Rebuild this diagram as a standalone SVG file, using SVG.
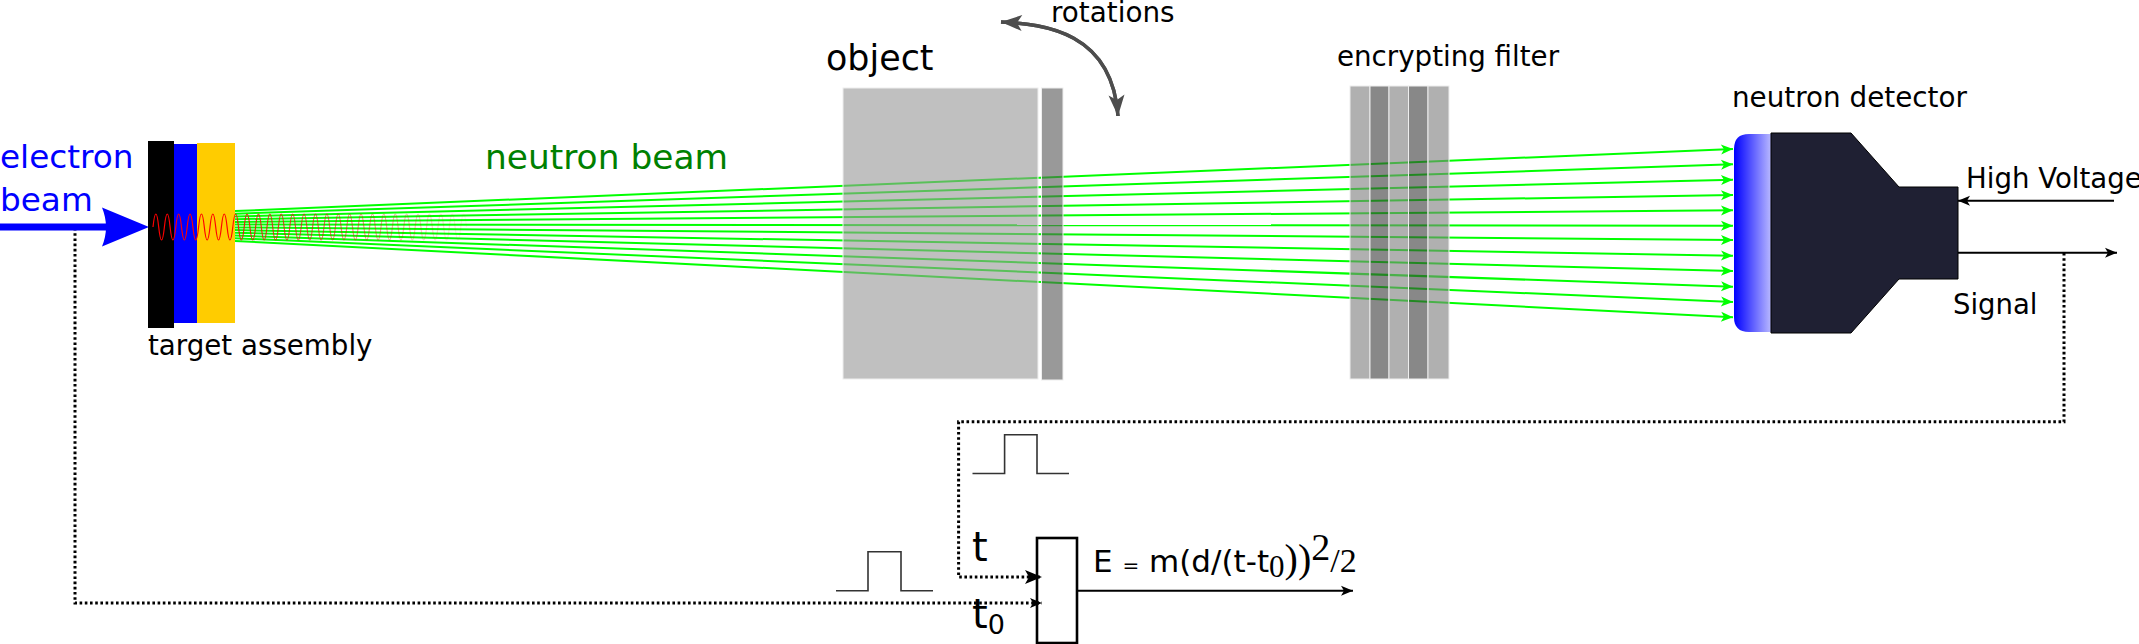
<svg xmlns="http://www.w3.org/2000/svg" width="2139" height="644" viewBox="0 0 2139 644">
<style>
text{font-family:"DejaVu Sans",sans-serif;fill:#000}
.ray{stroke:#00ff00;stroke-width:2;fill:none;marker-end:url(#ga)}
.dot{stroke:#000;stroke-width:3;stroke-dasharray:2.6 2.6;fill:none}
.thin{stroke:#000;stroke-width:2;fill:none}
.pulse{stroke:#333;stroke-width:1.6;fill:none}
.pane{stroke:#eee;stroke-width:1;fill-opacity:.6}
.sf{font-family:"Liberation Serif",serif}
</style>
<defs>
<marker id="ga" markerUnits="userSpaceOnUse" markerWidth="14" markerHeight="12" refX="12" refY="5" orient="auto" overflow="visible"><path d="M12 5L0 0L3 5L0 10Z" fill="#00ff00"/></marker>
<marker id="ka" markerUnits="userSpaceOnUse" markerWidth="14" markerHeight="12" refX="12" refY="5" orient="auto" overflow="visible"><path d="M12 5L0 0L3 5L0 10Z" fill="#000"/></marker>
<marker id="kb" markerUnits="userSpaceOnUse" markerWidth="20" markerHeight="16" refX="17" refY="7" orient="auto" overflow="visible"><path d="M17 7L0 0L4 7L0 14Z" fill="#000"/></marker>
<marker id="ra" markerUnits="userSpaceOnUse" markerWidth="24" markerHeight="20" refX="21" refY="8" orient="auto" overflow="visible"><path d="M21 8L0 0L5 8L0 16Z" fill="#4d4d4d"/></marker>
<linearGradient id="pm" x1="0" y1="0" x2="1" y2="0"><stop offset="0" stop-color="#0000ff"/><stop offset="1" stop-color="#0000ff" stop-opacity=".28"/></linearGradient>
<linearGradient id="wave" gradientUnits="userSpaceOnUse" x1="235" y1="0" x2="480" y2="0"><stop offset="0" stop-color="#ff0000" stop-opacity=".9"/><stop offset="1" stop-color="#ff0000" stop-opacity="0"/></linearGradient>
</defs>
<g id="connectors">
<g id="rays">
<path class="ray" d="M235 211L1733 149"/>
<path class="ray" d="M235 213.7L1733 164.3"/>
<path class="ray" d="M235 216.5L1733 179.7"/>
<path class="ray" d="M235 219.2L1733 195"/>
<path class="ray" d="M235 221.9L1733 210.3"/>
<path class="ray" d="M235 224.6L1733 225.7"/>
<path class="ray" d="M235 227.4L1733 240"/>
<path class="ray" d="M235 230.1L1733 255.7"/>
<path class="ray" d="M235 232.8L1733 271"/>
<path class="ray" d="M235 235.5L1733 286.7"/>
<path class="ray" d="M235 238.3L1733 302"/>
<path class="ray" d="M235 241L1733 317.3"/>
</g>
<path class="thin" d="M2114 200.7H1958" marker-end="url(#ka)"/>
<path class="thin" d="M1958 252.7H2117" marker-end="url(#ka)"/>
<path class="thin" d="M1077 590.7H1353" marker-end="url(#ka)"/>
<path class="dot" d="M2064 253V421.7H958.6V577H1042" marker-end="url(#kb)"/>
<path class="dot" d="M75 228V603H1042" marker-end="url(#ka)"/>
<path d="M1001 22C1045 24 1112 32 1118 116" fill="none" stroke="#4d4d4d" stroke-width="3.4" marker-end="url(#ra)"/>
<path d="M1118 116C1112 32 1045 24 1001 22" fill="none" stroke="#4d4d4d" stroke-width="3.4" marker-end="url(#ra)"/>
</g>
<g id="electron-beam">
<path d="M0 223.5H107V230.5H0Z" fill="#0000ff"/>
<path d="M149 227L102 207.500Q110 227 102 246.500Z" fill="#0000ff"/>
<text x="0" y="168" font-size="32.700" style="fill:#0000ff">electron</text>
<text x="0" y="211" font-size="32.700" style="fill:#0000ff">beam</text>
</g>
<g id="target-assembly">
<rect x="148" y="141" width="26" height="187" fill="#000"/>
<rect x="174" y="144" width="23" height="179" fill="#0000ff"/>
<rect x="197" y="143" width="38" height="180" fill="#ffcc00"/>
<text x="148" y="355" font-size="27.700">target assembly</text>
</g>
<path id="wave-low" d="M153 227q2.85 -26 5.7 0t5.7 0t5.7 0t5.7 0t5.7 0t5.7 0t5.7 0t5.7 0t5.7 0t5.7 0t5.7 0t5.7 0t5.7 0t5.7 0" fill="none" stroke="#ff0000" stroke-width="1.2"/>
<path id="wave-fade" d="M232.800 227q2.85 -26 5.7 0t5.7 0t5.7 0t5.7 0t5.7 0t5.7 0t5.7 0t5.7 0t5.7 0t5.7 0t5.7 0t5.7 0t5.7 0t5.7 0t5.7 0t5.7 0t5.7 0t5.7 0t5.7 0t5.7 0t5.7 0t5.7 0t5.7 0t5.7 0t5.7 0t5.7 0t5.7 0t5.7 0t5.7 0t5.7 0t5.7 0t5.7 0t5.7 0t5.7 0t5.7 0t5.7 0t5.7 0t5.7 0t5.7 0t5.7 0t5.7 0" fill="none" stroke="url(#wave)" stroke-width="1.2"/>
<text id="neutron-beam" x="485" y="169" font-size="34.400" style="fill:#008000">neutron beam</text>
<g id="object">
<rect class="pane" x="843" y="88" width="195" height="291" fill="#969696"/>
<rect class="pane" x="1041.500" y="88" width="21.500" height="292" fill="#555"/>
<text x="826" y="70" font-size="34.900">object</text>
</g>
<text id="rotations" x="1051" y="22" font-size="27.800">rotations</text>
<g id="encrypting-filter">
<rect class="pane" x="1350" y="86" width="20" height="293" fill="#7b7b7b"/>
<rect class="pane" x="1370" y="86" width="19" height="293" fill="#393939"/>
<rect class="pane" x="1389" y="86" width="19.500" height="293" fill="#7b7b7b"/>
<rect class="pane" x="1408.500" y="86" width="19.500" height="293" fill="#393939"/>
<rect class="pane" x="1428" y="86" width="21" height="293" fill="#7b7b7b"/>
<text x="1337" y="66" font-size="27.700">encrypting filter</text>
</g>
<g id="neutron-detector">
<path d="M1771 134H1749Q1734 134 1734 149V317Q1734 332 1749 332H1771Z" fill="url(#pm)"/>
<path d="M1771 133H1851L1899 187H1958V279H1899L1851 333H1771Z" fill="#1f2033" stroke="#000" stroke-width="1"/>
<text x="1732" y="107" font-size="27.800">neutron detector</text>
<text x="1966" y="188" font-size="27.600">High Voltage</text>
<text x="1953" y="314" font-size="27.500">Signal</text>
</g>
<path id="pulse-t" class="pulse" d="M972.500 473.500H1004.600V434.700H1037V473.500H1069"/>
<path id="pulse-t0" class="pulse" d="M836 590.700H868V551.700H901V590.700H933"/>
<g id="calculator">
<rect x="1037" y="538" width="40" height="105" fill="none" stroke="#000" stroke-width="2.600"/>
<text x="972" y="561" font-size="40">t</text>
<text x="972" y="628" font-size="40">t<tspan font-size="27" dy="6">0</tspan></text>
<text x="1093" y="572" font-size="31">E <tspan font-size="20">=</tspan> m(d/(t-t<tspan class="sf" font-size="31" dy="5">0</tspan><tspan class="sf" dy="-5" font-size="40">))</tspan><tspan class="sf" font-size="38" dy="-12">2</tspan><tspan class="sf" font-size="34" dy="12">/2</tspan></text>
</g>
</svg>
